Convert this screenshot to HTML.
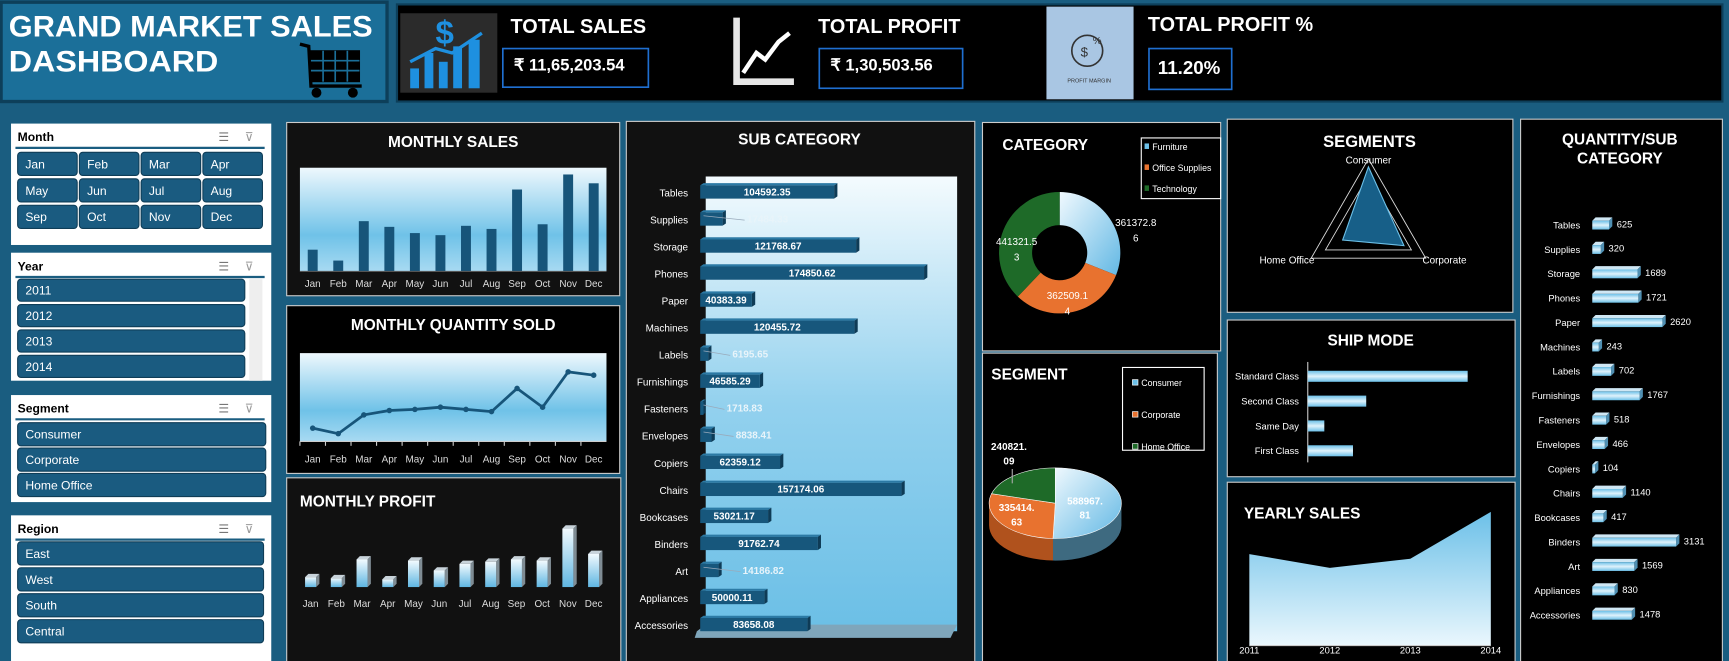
<!DOCTYPE html>
<html><head><meta charset="utf-8"><style>
html,body{margin:0;padding:0;background:#1a5d80;overflow:hidden}
svg{display:block;font-family:"Liberation Sans Narrow","Liberation Sans",sans-serif}
</style></head><body>
<svg id="dash" width="1729" height="661" viewBox="0 0 1568 599" preserveAspectRatio="none" xmlns="http://www.w3.org/2000/svg">
<defs>
<linearGradient id="plotg" x1="0" y1="0" x2="0" y2="1"><stop offset="0" stop-color="#eef8fd"/><stop offset="0.65" stop-color="#6fc2e8"/><stop offset="1" stop-color="#a8daf2"/></linearGradient>
<linearGradient id="subg" x1="0" y1="0" x2="0" y2="1"><stop offset="0" stop-color="#f4fbfe"/><stop offset="0.5" stop-color="#93d1ee"/><stop offset="1" stop-color="#6bbfe6"/></linearGradient>
<linearGradient id="barv" x1="0" y1="0" x2="0" y2="1"><stop offset="0" stop-color="#6cc0e8"/><stop offset="0.5" stop-color="#dff2fb"/><stop offset="1" stop-color="#6cc0e8"/></linearGradient>
<linearGradient id="colg" x1="0" y1="0" x2="0" y2="1"><stop offset="0" stop-color="#f2fafe"/><stop offset="1" stop-color="#5fb6e2"/></linearGradient>
<linearGradient id="areag" x1="0" y1="0" x2="0" y2="1"><stop offset="0" stop-color="#6cc0e8"/><stop offset="1" stop-color="#eaf7fd"/></linearGradient>
<linearGradient id="furng" x1="0" y1="0" x2="1" y2="1"><stop offset="0" stop-color="#f0f9fe"/><stop offset="1" stop-color="#62b8e4"/></linearGradient>
</defs>
<rect x="0" y="0" width="1568" height="599" fill="#1a5d80"/>
<g>
<rect x="1" y="2" width="350" height="90" fill="#1b6f99" stroke="#0d3f5a" stroke-width="3"/>
<text x="8" y="33" fill="#fff" font-size="27" font-weight="bold" textLength="330" lengthAdjust="spacingAndGlyphs">GRAND MARKET SALES</text>
<text x="8" y="65" fill="#fff" font-size="27" font-weight="bold" textLength="190" lengthAdjust="spacingAndGlyphs">DASHBOARD</text>
<g fill="#000" stroke="#000">
<path d="M272 40 L280 42 L282 78 L328 78" fill="none" stroke-width="3"/>
<rect x="282" y="46" width="44" height="28"/>
<g stroke="#1b6f99" stroke-width="1.5"><line x1="293" y1="46" x2="293" y2="74"/><line x1="304" y1="46" x2="304" y2="74"/><line x1="315" y1="46" x2="315" y2="74"/><line x1="282" y1="55" x2="326" y2="55"/><line x1="282" y1="64" x2="326" y2="64"/></g>
<circle cx="287" cy="84" r="4"/><circle cx="320" cy="84" r="4"/></g>
</g>
<rect x="360" y="4" width="1202" height="88" fill="#000" stroke="#0d3f5a" stroke-width="2"/>
<g>
<rect x="363" y="12" width="88" height="72" fill="#2b2b2b"/>
<rect x="372" y="62" width="8" height="18" fill="#1e90e0"/><rect x="385" y="48" width="8" height="32" fill="#1e90e0"/><rect x="398" y="56" width="8" height="24" fill="#1e90e0"/><rect x="411" y="42" width="8" height="38" fill="#1e90e0"/><rect x="425" y="36" width="10" height="44" fill="#1e90e0"/>
<text x="395" y="40" fill="#1e90e0" font-size="30" font-weight="bold">$</text>
<path d="M372 56 L395 44 L410 48 L437 30" stroke="#1e90e0" stroke-width="3" fill="none"/></g>
<text x="463" y="30" fill="#fff" font-size="18" font-weight="bold">TOTAL SALES</text>
<rect x="456" y="44" width="132" height="35" fill="#000" stroke="#1f6fd0" stroke-width="1.5"/>
<text x="466" y="64" fill="#fff" font-size="15" font-weight="bold">₹ 11,65,203.54</text>
<g>
<path d="M668 16 L668 74 L720 74" stroke="#fff" stroke-width="6" fill="none" opacity="0.9"/>
<path d="M674 66 L686 48 L694 54 L706 38 L716 30" stroke="#fff" stroke-width="4" fill="none"/></g>
<text x="742" y="30" fill="#fff" font-size="18" font-weight="bold">TOTAL PROFIT</text>
<rect x="743" y="44" width="130" height="36" fill="#000" stroke="#1f6fd0" stroke-width="1.5"/>
<text x="753" y="64" fill="#fff" font-size="15" font-weight="bold">₹ 1,30,503.56</text>
<g>
<rect x="949" y="6" width="79" height="84" fill="#a9c6e3"/>
<circle cx="986" cy="46" r="14" fill="none" stroke="#333" stroke-width="1.5"/><text x="980" y="51" font-size="12" fill="#333">$</text><text x="991" y="40" font-size="9" fill="#333">%</text>
<text x="968" y="75" font-size="5" fill="#333">PROFIT MARGIN</text></g>
<text x="1041" y="28" fill="#fff" font-size="18" font-weight="bold">TOTAL PROFIT %</text>
<rect x="1042" y="44" width="75" height="37" fill="#000" stroke="#1f6fd0" stroke-width="1.5"/>
<text x="1050" y="67" fill="#fff" font-size="17" font-weight="bold">11.20%</text>

<g id="slicers"></g>

<rect x="260" y="111" width="302" height="157" fill="#111" stroke="#ccc"/>
<text x="411" y="133" fill="#fff" font-size="14" font-weight="bold" text-anchor="middle">MONTHLY SALES</text>
<rect x="260" y="277" width="302" height="152" fill="#000" stroke="#ccc"/>
<text x="411" y="299" fill="#fff" font-size="14" font-weight="bold" text-anchor="middle">MONTHLY QUANTITY SOLD</text>
<rect x="260" y="433" width="303" height="170" fill="#111" stroke="#ccc"/>
<text x="272" y="459" fill="#fff" font-size="14" font-weight="bold">MONTHLY PROFIT</text>
<rect x="568" y="110" width="316" height="495" fill="#111" stroke="#ccc"/>
<text x="725" y="131" fill="#fff" font-size="14" font-weight="bold" text-anchor="middle">SUB CATEGORY</text>
<rect x="891" y="111" width="216" height="207" fill="#000" stroke="#ccc"/>
<text x="909" y="136" fill="#fff" font-size="14" font-weight="bold">CATEGORY</text>
<rect x="891" y="320" width="213" height="285" fill="#000" stroke="#ccc"/>
<text x="899" y="344" fill="#fff" font-size="14" font-weight="bold">SEGMENT</text>
<rect x="1113" y="108" width="259" height="175" fill="#000" stroke="#ccc"/>
<text x="1242" y="133" fill="#fff" font-size="15" font-weight="bold" text-anchor="middle">SEGMENTS</text>
<rect x="1113" y="290" width="261" height="142" fill="#000" stroke="#ccc"/>
<text x="1243" y="313" fill="#fff" font-size="14" font-weight="bold" text-anchor="middle">SHIP MODE</text>
<rect x="1113" y="437" width="261" height="168" fill="#000" stroke="#ccc"/>
<text x="1128" y="470" fill="#fff" font-size="14" font-weight="bold">YEARLY SALES</text>
<rect x="1379" y="108" width="183" height="497" fill="#000" stroke="#ccc"/>
<text x="1469" y="131" fill="#fff" font-size="14" font-weight="bold" text-anchor="middle">QUANTITY/SUB</text>
<text x="1469" y="148" fill="#fff" font-size="14" font-weight="bold" text-anchor="middle">CATEGORY</text>

<g id="charts"></g>
</svg>
<script>
const NS="http://www.w3.org/2000/svg";
const months=["Jan","Feb","Mar","Apr","May","Jun","Jul","Aug","Sep","Oct","Nov","Dec"];
const monthlySales=[42,21,97,86,74,70,88,82,158,91,187,170];
const monthlyQty=[12,7,24,28,29,31,29,27,48,31,63,60];
const monthlyProfit=[9,8,25,7,24,15,21,23,25,24,53,30];
const subCats=["Tables","Supplies","Storage","Phones","Paper","Machines","Labels","Furnishings","Fasteners","Envelopes","Copiers","Chairs","Bookcases","Binders","Art","Appliances","Accessories"];
const subSales=[104592.35,17484.33,121768.67,174850.62,40383.39,120455.72,6195.65,46585.29,1718.83,8838.41,62359.12,157174.06,53021.17,91762.74,14186.82,50000.11,83658.08];
const subSalesLabels=["104592.35","17484.33","121768.67","174850.62","40383.39","120455.72","6195.65","46585.29","1718.83","8838.41","62359.12","157174.06","53021.17","91762.74","14186.82","50000.11","83658.08"];
const subQty=[625,320,1689,1721,2620,243,702,1767,518,466,104,1140,417,3131,1569,830,1478];
const categories=["Furniture","Office Supplies","Technology"];
const categorySales=[361372.86,362509.14,441321.53];
const categoryLabels=["361372.8\n6","362509.1\n4","441321.5\n3"];
const segments=["Consumer","Corporate","Home Office"];
const segmentSales=[588967.81,335414.63,240821.09];
const segmentLabels=["588967.\n81","335414.\n63","240821.\n09"];
const radarValues=[0.88,0.62,0.45];
const shipModes=["Standard Class","Second Class","Same Day","First Class"];
const shipValues=[145,53,15,41];
const years=["2011","2012","2013","2014"];
const yearlySales=[80,68,76,117];

const ch=document.getElementById('charts');
function mk(tag,attrs,parent,txt){const e=document.createElementNS(NS,tag);for(const k in attrs)e.setAttribute(k,attrs[k]);if(txt!==undefined)e.textContent=txt;(parent||ch).appendChild(e);return e;}

const sl=document.getElementById('slicers');
function slicer(name,title,y,h,items,cols,bx,bw,by,bh,gap,scroll){
  const g=mk('g',{},sl);
  
  
  mk('rect',{x:10,y:y,width:236,height:h,fill:'#fff'},g);
  mk('text',{x:16,y:y+16,'font-size':11,'font-weight':'bold',fill:'#000'},g,title);
  mk('text',{x:198,y:y+16,'font-size':11,fill:'#777'},g,'☰');
  mk('text',{x:222,y:y+16,'font-size':11,fill:'#999'},g,'⊽');
  mk('line',{x1:14,y1:y+22,x2:240,y2:y+22,stroke:'#1a5d80','stroke-width':2},g);
  if(scroll){mk('rect',{x:226,y:by,width:12,height:items.length*23,fill:'#eee'},g);}
  items.forEach((it,i)=>{
    const c=i%cols,r=Math.floor(i/cols);
    const b=mk('rect',{x:bx+c*(bw+2),y:by+r*(bh+gap),width:bw,height:bh,rx:3,fill:'#1a5b80',stroke:'#0f3d57'},g);
    
    
    mk('text',{x:bx+c*(bw+2)+7,y:by+r*(bh+gap)+bh/2+4,'font-size':11,fill:'#fff'},g,it);
  });
}
slicer('month','Month',112,110,months,4,16,54,138,21,3,false);
slicer('year','Year',229,116,years,1,16,206,253,20,3,true);
slicer('segment','Segment',358,97,segments,1,16,225,383,21,2,false);
slicer('region','Region',467,140,["East","West","South","Central"],1,16,223,491,21,2.5,false);

{const L=272,R=550,T=152,B=246;mk('rect',{x:L,y:T,width:R-L,height:B-T,fill:'url(#plotg)'});
 const max=200;const xs=i=>L+(R-L)/12*(i+0.5);const ys=v=>B-(B-T)*v/max;
 monthlySales.forEach((v,i)=>{const r=mk('rect',{x:xs(i)-4.5,y:ys(v),width:9,height:B-ys(v),fill:'#17557a'});
  
  
  mk('text',{x:xs(i),y:260,'font-size':9,fill:'#ddd','text-anchor':'middle'},ch,months[i]);});
 mk('line',{x1:L,y1:B,x2:R,y2:B,stroke:'#555'});}

{const L=272,R=550,T=320,B=400;mk('rect',{x:L,y:T,width:R-L,height:B-T,fill:'url(#plotg)'});
 const max=80;const xs=i=>L+(R-L)/12*(i+0.5);const ys=v=>B-(B-T)*v/max;
 const p=monthlyQty.map((v,i)=>xs(i)+','+ys(v)).join(' ');
 const ln=mk('polyline',{points:p,fill:'none',stroke:'#17557a','stroke-width':2.5});
 
 
 monthlyQty.forEach((v,i)=>{const c=mk('circle',{cx:xs(i),cy:ys(v),r:2.5,fill:'#17557a'});
  
  
  mk('line',{x1:L+(R-L)/12*i,y1:B,x2:L+(R-L)/12*i,y2:B+4,stroke:'#ccc'});
  mk('text',{x:xs(i),y:419,'font-size':9,fill:'#ddd','text-anchor':'middle'},ch,months[i]);});
 mk('line',{x1:L,y1:B,x2:R,y2:B,stroke:'#ccc'});}

{const L=270,R=550,B=532;const max=60,H=60;const xs=i=>L+(R-L)/12*(i+0.5);const ys=v=>B-H*v/max;
 monthlyProfit.forEach((v,i)=>{const x=xs(i)-5,y=ys(v);
  mk('path',{d:`M${x} ${y} l3 -3 h10 l-3 3z`,fill:'#c8d3da'});
  mk('path',{d:`M${x+10} ${y} l3 -3 V${B-3} l-3 3z`,fill:'#7f8c94'});
  const r=mk('rect',{x:x,y:y,width:10,height:B-y,fill:'url(#colg)'});
  
  
  mk('text',{x:xs(i),y:550,'font-size':9,fill:'#ddd','text-anchor':'middle'},ch,months[i]);});}

{const L=635,T=160,B=572;mk('path',{d:`M640 ${T} H868 V${B} H640z`,fill:'url(#subg)'});
 mk('path',{d:`M632 ${B} L640 ${B-6} H868 L862 ${B+6} H630z`,fill:'#7fa6bb'});
 const max=174850.62,W=203;const xs=v=>L+W*v/max;const ys=i=>174+i*24.5;
 subSales.forEach((v,i)=>{const y=ys(i)-6,x2=xs(v);
  mk('path',{d:`M${x2} ${y} l3 -2 v12 l-3 2z`,fill:'#0e3b56'});
  mk('path',{d:`M${L} ${y} l3 -2 H${x2+3} l-3 2z`,fill:'#2c7aa5'});
  const r=mk('rect',{x:L,y:y,width:Math.max(x2-L,3),height:12,fill:'#17577c'});
  
  
  mk('text',{x:624,y:ys(i)+4,'font-size':9,fill:'#fff','text-anchor':'end'},ch,subCats[i]);
  const inside=x2-L>45;
  if(!inside) mk('line',{x1:L+3,y1:ys(i)-3,x2:x2+20,y2:ys(i)+1,stroke:'#9ab',"stroke-width":0.7});
  mk('text',{x:inside?(L+x2)/2:x2+22,y:ys(i)+3,'font-size':9,'font-weight':'bold',fill:inside?'#fff':'#e8f4fa','text-anchor':inside?'middle':'start'},ch,subSalesLabels[i]);
 });}

{const cx=961,cy=229,Ro=55,Ri=25;const tot=categorySales.reduce((a,b)=>a+b,0);
 const cols=['url(#furng)','#e8722f','#1e6a28'];let a0=-Math.PI/2;
 const lp=[[1030,205],[968,271],[922,222]];
 categorySales.forEach((v,i)=>{const a1=a0+2*Math.PI*v/tot;const la=(a1-a0)>Math.PI?1:0;
  const P=(r,a)=>[cx+r*Math.cos(a),cy+r*Math.sin(a)];
  const [x0,y0]=P(Ro,a0),[x1,y1]=P(Ro,a1),[x2,y2]=P(Ri,a1),[x3,y3]=P(Ri,a0);
  const s=mk('path',{d:`M${x0} ${y0} A${Ro} ${Ro} 0 ${la} 1 ${x1} ${y1} L${x2} ${y2} A${Ri} ${Ri} 0 ${la} 0 ${x3} ${y3}z`,fill:cols[i]});
  
  
  const lines=categoryLabels[i].split('\n');
  lines.forEach((t,k)=>mk('text',{x:lp[i][0],y:lp[i][1]+k*14,'font-size':9,fill:'#fff','text-anchor':'middle'},ch,t));
  a0=a1;});
 const lg=mk('rect',{x:1035,y:125,width:72,height:55,fill:'none',stroke:'#fff'});
 
 
 const lc=['#6cc0e8','#e8722f','#1e6a28'];
 categories.forEach((c,i)=>{mk('rect',{x:1038,y:130+i*19,width:4,height:5,fill:lc[i]});mk('text',{x:1045,y:136+i*19,'font-size':8,fill:'#fff'},ch,c);});}

{const cx=957,cy=456,rx=60,ry=32,d=20;const tot=segmentSales.reduce((a,b)=>a+b,0);
 const cols=['url(#furng)','#e8722f','#1e6a28'];const side=['#3e6a80','#b0521d','#124a1a'];
 let a0=-Math.PI/2;const lp=[[984,457],[922,463],[915,408]];
 segmentSales.forEach((v,i)=>{const a1=a0+2*Math.PI*v/tot;
  const P=a=>[cx+rx*Math.cos(a),cy+ry*Math.sin(a)];
  const s0=Math.max(a0,0),s1=Math.min(a1,Math.PI);
  if(s1>s0){const [p,q]=P(s0),[r,t]=P(s1);mk('path',{d:`M${p} ${q} A${rx} ${ry} 0 0 1 ${r} ${t} v${d} A${rx} ${ry} 0 0 0 ${p} ${q+d}z`,fill:side[i]});}
  a0=a1;});
 a0=-Math.PI/2;
 segmentSales.forEach((v,i)=>{const a1=a0+2*Math.PI*v/tot;const la=(a1-a0)>Math.PI?1:0;
  const P=a=>[cx+rx*Math.cos(a),cy+ry*Math.sin(a)];const [x0,y0]=P(a0),[x1,y1]=P(a1);
  const s=mk('path',{d:`M${cx} ${cy} L${x0} ${y0} A${rx} ${ry} 0 ${la} 1 ${x1} ${y1}z`,fill:cols[i],stroke:'#fff','stroke-width':0.5});
  
  
  segmentLabels[i].split('\n').forEach((t,k)=>mk('text',{x:lp[i][0],y:lp[i][1]+k*13,'font-size':9,'font-weight':'bold',fill:'#fff','text-anchor':'middle'},ch,t));
  a0=a1;});
 mk('line',{x1:918,y1:425,x2:918,y2:438,stroke:'#aaa'});
 const lg=mk('rect',{x:1018,y:333,width:74,height:75,fill:'none',stroke:'#fff'});
 
 
 const lc=['#6cc0e8','#e8722f','#1e6a28'];
 segments.forEach((c,i)=>{mk('rect',{x:1027,y:344+i*29,width:5,height:5,fill:lc[i],stroke:'#fff','stroke-width':0.6});mk('text',{x:1035,y:350+i*29,'font-size':8,fill:'#fff'},ch,c);});}

{const cx=1241,cy=204,R=60;const ang=[-Math.PI/2,Math.PI/6,5*Math.PI/6];
 const P=(r,k)=>[cx+r*Math.cos(ang[k]),cy+r*Math.sin(ang[k])];
 [1,0.75].forEach(s=>mk('polygon',{points:[0,1,2].map(k=>P(R*s,k).join(',')).join(' '),fill:'none',stroke:'#ddd','stroke-width':0.8}));
 const poly=mk('polygon',{points:radarValues.map((v,k)=>P(R*v,k).join(',')).join(' '),fill:'#175f88',stroke:'#6cc0e8','stroke-width':1});
 
 
 mk('text',{x:cx,y:148,'font-size':9,fill:'#fff','text-anchor':'middle'},ch,segments[0]);
 mk('text',{x:1290,y:239,'font-size':9,fill:'#fff'},ch,segments[1]);
 mk('text',{x:1192,y:239,'font-size':9,fill:'#fff','text-anchor':'end'},ch,segments[2]);}

{const L=1186,ys=i=>341+i*22.5;mk('line',{x1:L,y1:328,x2:L,y2:419,stroke:'#ccc'});
 shipValues.forEach((v,i)=>{const r=mk('rect',{x:L,y:ys(i)-5,width:v,height:10,fill:'url(#barv)'});
  
  
  mk('text',{x:1178,y:ys(i)+3,'font-size':8.5,fill:'#fff','text-anchor':'end'},ch,shipModes[i]);});}

{const L=1133,R=1352,B=585,max=140;const xs=i=>L+(R-L)*i/3;const ys=v=>B-(B-440)*v/max;
 const pts=yearlySales.map((v,i)=>xs(i)+','+ys(v)).join(' ');
 const a=mk('polygon',{points:`${L},${B} ${pts} ${R},${B}`,fill:'url(#areag)'});
 
 
 mk('line',{x1:L,y1:B,x2:R,y2:B,stroke:'#ccc'});
 years.forEach((y,i)=>mk('text',{x:xs(i),y:592,'font-size':8.5,fill:'#fff','text-anchor':'middle'},ch,y));}

{const L=1444,max=3131,W=76;const xs=v=>L+W*v/max;const ys=i=>204+i*22.1;
 subQty.forEach((v,i)=>{const x2=xs(v),y=ys(i)-4;
  mk('path',{d:`M${L} ${y} l3 -3 H${x2+3} l-3 3z`,fill:'#cfe7f4'});
  mk('path',{d:`M${x2} ${y} l3 -3 v8 l-3 3z`,fill:'#4f8fb2'});
  const r=mk('rect',{x:L,y:y,width:Math.max(x2-L,2),height:8,fill:'url(#barv)'});
  
  
  mk('text',{x:1433,y:ys(i)+3,'font-size':8.5,fill:'#fff','text-anchor':'end'},ch,subCats[i]);
  mk('text',{x:x2+7,y:ys(i)+2,'font-size':8.5,fill:'#fff'},ch,String(v));});}
</script>
</body></html>
